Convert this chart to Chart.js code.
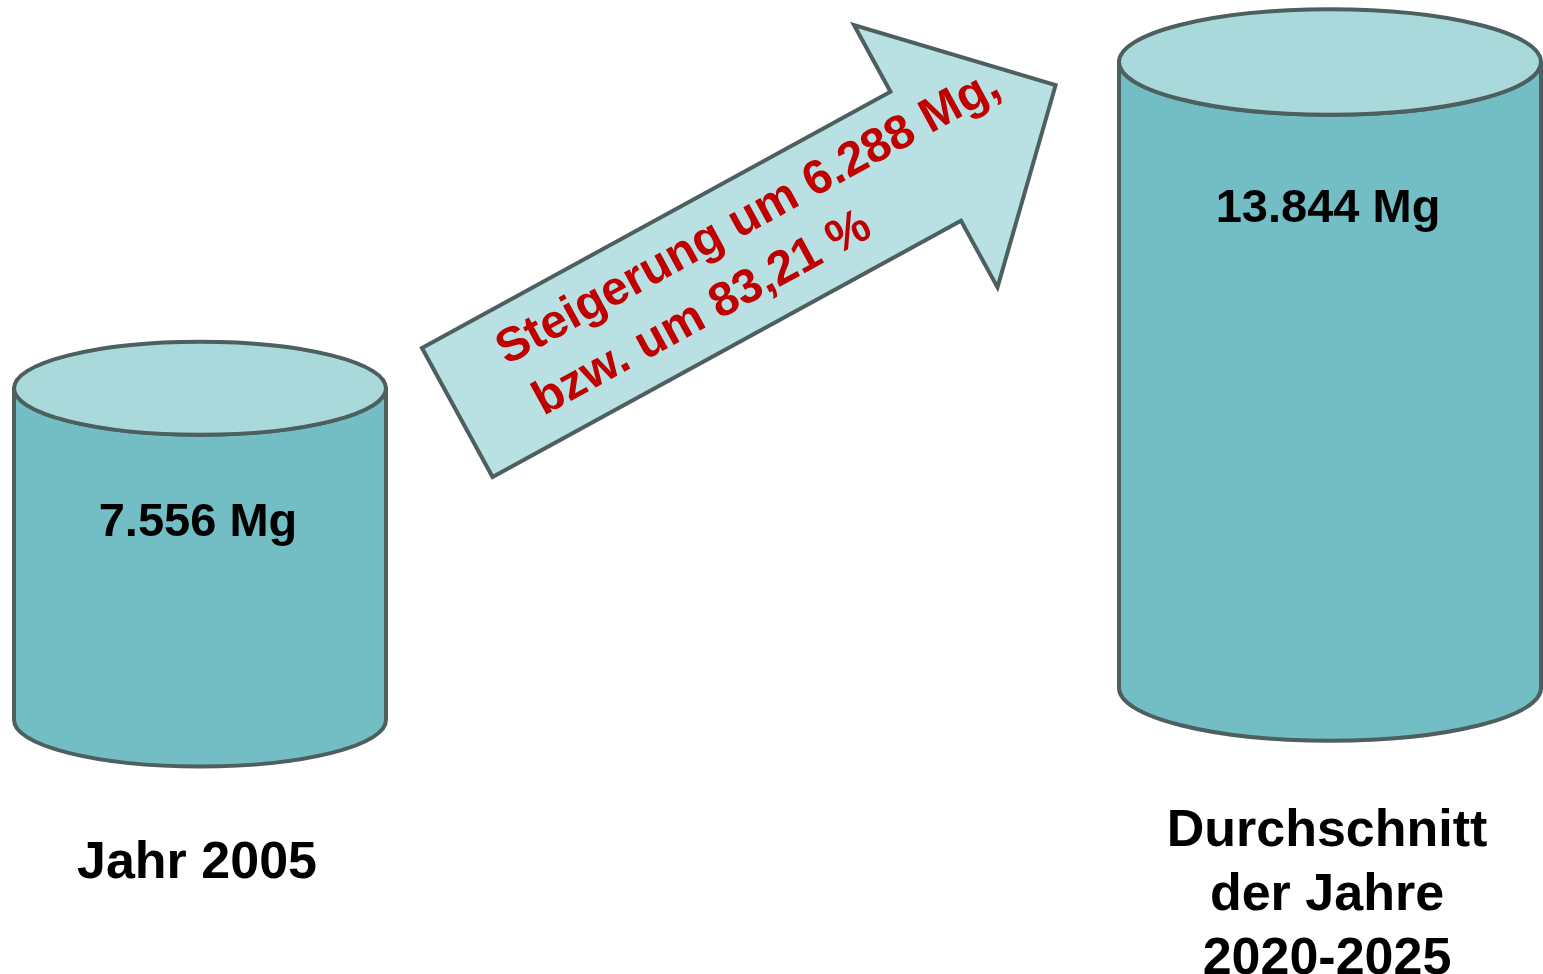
<!DOCTYPE html>
<html>
<head>
<meta charset="utf-8">
<script src="https://cdn.jsdelivr.net/npm/chart.js@4/dist/chart.umd.min.js"></script>
<style>
  html, body { margin: 0; padding: 0; background: #fff; }
  canvas { display: block; }
</style>
</head>
<body>
<canvas id="chart" width="1543" height="974"></canvas>
<script>
// Daten
const categories = [['Jahr 2005'], ['Durchschnitt', 'der Jahre', '2020-2025']];
const values = [7556, 13844];
const unit = 'Mg';

const dark = '#4d5f5f';
const bodyColor = '#72bec4';
const topColor = '#a9d9db';
const FONT = '"Liberation Sans", Arial, sans-serif';

function fmt(v) {
  return String(v).replace(/\B(?=(\d{3})+(?!\d))/g, '.');
}

const diff = values[1] - values[0];
const pct = Math.floor(diff / values[0] * 10000) / 100;
const arrowLines = [
  'Steigerung um ' + fmt(diff) + ' ' + unit + ',',
  'bzw. um ' + pct.toFixed(2).replace('.', ',') + ' %'
];

// Zylinder statt Balken zeichnen
const cylinders = {
  id: 'cylinders',
  beforeDatasetDraw(chart, args) {
    const ctx = chart.ctx;
    const ds = chart.data.datasets[args.index];
    args.meta.data.forEach((bar, i) => {
      if (ds.data[i] == null) return;
      const x = bar.x, top = bar.y, base = bar.base;
      const rx = bar.width / 2, ry = bar.width * 0.125;
      ctx.save();
      ctx.lineWidth = 4;
      ctx.strokeStyle = dark;
      ctx.lineJoin = 'round';
      // Koerper
      ctx.beginPath();
      ctx.moveTo(x - rx, top);
      ctx.lineTo(x - rx, base);
      ctx.ellipse(x, base, rx, ry, 0, Math.PI, 0, true);
      ctx.lineTo(x + rx, top);
      ctx.ellipse(x, top, rx, ry, 0, 0, Math.PI, false);
      ctx.closePath();
      ctx.fillStyle = bodyColor;
      ctx.fill();
      ctx.stroke();
      // Deckel
      ctx.beginPath();
      ctx.ellipse(x, top, rx, ry, 0, 0, Math.PI * 2);
      ctx.fillStyle = topColor;
      ctx.fill();
      ctx.stroke();
      // Wert
      ctx.fillStyle = '#000';
      ctx.textAlign = 'center';
      ctx.textBaseline = 'alphabetic';
      ctx.font = 'bold 47px ' + FONT;
      ctx.fillText(fmt(ds.data[i]) + ' ' + unit, x - 2, top + ry * 2 + 55);
      // Beschriftung
      ctx.font = 'bold 52px ' + FONT;
      categories[i].forEach((line, k) => {
        ctx.fillText(line, x - 3, base + 158 + k * 64);
      });
      ctx.restore();
    });
    return false;
  },
  afterDatasetsDraw(chart) {
    const ctx = chart.ctx;
    const a = { x: 422, y: 348, angle: -28.68 * Math.PI / 180, shaft: 534, width: 147, barb: 76, head: 148 };
    ctx.save();
    ctx.translate(a.x, a.y);
    ctx.rotate(a.angle);
    ctx.beginPath();
    ctx.moveTo(0, 0);
    ctx.lineTo(a.shaft, 0);
    ctx.lineTo(a.shaft, -a.barb);
    ctx.lineTo(a.shaft + a.head, a.width / 2);
    ctx.lineTo(a.shaft, a.width + a.barb);
    ctx.lineTo(a.shaft, a.width);
    ctx.lineTo(0, a.width);
    ctx.closePath();
    ctx.fillStyle = '#b9e0e3';
    ctx.fill();
    ctx.lineWidth = 4;
    ctx.strokeStyle = dark;
    ctx.lineJoin = 'miter';
    ctx.stroke();
    ctx.fillStyle = '#c00000';
    ctx.font = 'bold 48px ' + FONT;
    ctx.textAlign = 'left';
    ctx.textBaseline = 'alphabetic';
    ctx.fillText(arrowLines[0], 66, 56);
    ctx.fillText(arrowLines[1], 74, 118);
    ctx.restore();
  }
};

new Chart(document.getElementById('chart'), {
  type: 'bar',
  data: {
    labels: categories,
    datasets: [{
      data: [values[0], null],
      yAxisID: 'y',
      barThickness: 372,
      backgroundColor: bodyColor
    }, {
      data: [null, values[1]],
      yAxisID: 'y2',
      barThickness: 422,
      backgroundColor: bodyColor
    }]
  },
  options: {
    responsive: false,
    animation: false,
    events: [],
    datasets: { bar: { grouped: false } },
    layout: { padding: { left: 200, right: 213, top: 0, bottom: 254 } },
    plugins: { legend: { display: false }, tooltip: { enabled: false } },
    scales: {
      x: { display: false, offset: false },
      y: { display: false, min: 0, max: 16400 },
      y2: { display: false, min: -708, max: 15215 }
    }
  },
  plugins: [cylinders]
});
</script>
</body>
</html>
